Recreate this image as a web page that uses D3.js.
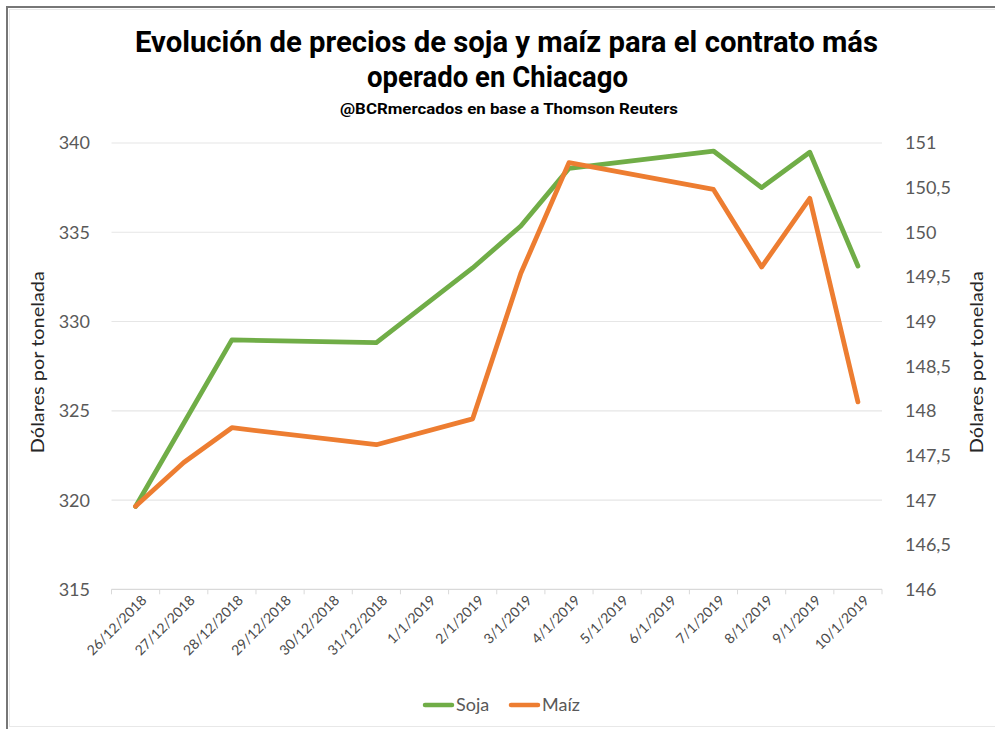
<!DOCTYPE html>
<html>
<head>
<meta charset="utf-8">
<script src="https://cdn.jsdelivr.net/npm/d3@7"></script>
<style>
  html, body { margin: 0; padding: 0; background: #fff; }
  svg { display: block; }
</style>
</head>
<body>
<svg id="chart" width="995" height="729"></svg>
<script>
// ---- Data ----
const categories = ["26/12/2018","27/12/2018","28/12/2018","29/12/2018","30/12/2018","31/12/2018",
  "1/1/2019","2/1/2019","3/1/2019","4/1/2019","5/1/2019","6/1/2019","7/1/2019","8/1/2019","9/1/2019","10/1/2019"];
const sojaDates  = ["26/12/2018","27/12/2018","28/12/2018","31/12/2018","2/1/2019","3/1/2019","4/1/2019","7/1/2019","8/1/2019","9/1/2019","10/1/2019"];
const sojaValues = [319.64, 324.3, 328.97, 328.82, 333.0, 335.35, 338.58, 339.55, 337.5, 339.48, 333.11];
const maizDates  = ["26/12/2018","27/12/2018","28/12/2018","31/12/2018","2/1/2019","3/1/2019","4/1/2019","7/1/2019","8/1/2019","9/1/2019","10/1/2019"];
const maizValues = [146.93, 147.42, 147.81, 147.62, 147.91, 149.54, 150.78, 150.48, 149.61, 150.38, 148.10];
const leftTicks  = [315, 320, 325, 330, 335, 340];
const rightTicks = [146, 146.5, 147, 147.5, 148, 148.5, 149, 149.5, 150, 150.5, 151];
const seriesNames = ["Soja", "Maíz"];
const seriesColors = ["#70AD47", "#ED7D31"];

(function () {
// ---- Layout ----
const svg = d3.select("#chart");
const pL = 111.5, pR = 882, pT = 143, pB = 589.3;
const font = "Lato, 'Open Sans', sans-serif";
const textCol = "#595959";

// frame
svg.append("rect").attr("x", 7).attr("y", 7).attr("width", 1000).attr("height", 740)
  .attr("fill", "none").attr("stroke", "#777").attr("stroke-width", 2);
svg.append("rect").attr("x", 9.5).attr("y", 9.5).attr("width", 1000).attr("height", 717)
  .attr("fill", "none").attr("stroke", "#e8e8e8").attr("stroke-width", 1);

const x = d3.scaleBand().domain(categories).range([pL, pR]).padding(0);
const yL = d3.scaleLinear().domain([315, 340]).range([pB, pT]);
const yR = d3.scaleLinear().domain([146, 151]).range([pB, pT]);
const cx = d => x(d) + x.bandwidth() / 2;

// gridlines
svg.append("g").selectAll("line").data(leftTicks).join("line")
  .attr("x1", pL).attr("x2", pR)
  .attr("y1", d => yL(d)).attr("y2", d => yL(d))
  .attr("stroke", d => d === 315 ? "#d9d9d9" : "#e6e6e6").attr("stroke-width", 1.2);

// x tick marks (category boundaries)
const bounds = categories.map(c => x(c)).concat([pR]);
svg.append("g").selectAll("line").data(bounds).join("line")
  .attr("x1", d => d).attr("x2", d => d)
  .attr("y1", pB).attr("y2", pB + 5)
  .attr("stroke", "#d9d9d9").attr("stroke-width", 1);

// left axis labels
svg.append("g").selectAll("text").data(leftTicks).join("text")
  .attr("x", 90).attr("y", d => yL(d)).attr("dy", "0.36em")
  .attr("text-anchor", "end")
  .attr("font-family", font).attr("font-size", 18).attr("fill", textCol)
  .text(d => d);

// right axis labels
const commaFmt = d => String(d).replace(".", ",");
svg.append("g").selectAll("text").data(rightTicks).join("text")
  .attr("x", 905).attr("y", d => yR(d)).attr("dy", "0.36em")
  .attr("text-anchor", "start")
  .attr("font-family", font).attr("font-size", 18).attr("fill", textCol)
  .text(commaFmt);

// x labels
svg.append("g").selectAll("text").data(categories).join("text")
  .attr("transform", d => `translate(${cx(d) + 12},${pB + 12}) rotate(-45)`)
  .attr("text-anchor", "end")
  .attr("font-family", font).attr("font-size", 14).attr("fill", "#4a4a4a")
  .text(d => d);

// axis titles
svg.append("text")
  .attr("transform", `translate(44,${(pT + pB) / 2 - 4}) rotate(-90)`)
  .attr("text-anchor", "middle")
  .attr("font-family", font).attr("font-size", 17).attr("fill", "#262626")
  .attr("textLength", 182).attr("lengthAdjust", "spacingAndGlyphs")
  .text("Dólares por tonelada");
svg.append("text")
  .attr("transform", `translate(983,${(pT + pB) / 2 - 4}) rotate(-90)`)
  .attr("text-anchor", "middle")
  .attr("font-family", font).attr("font-size", 17).attr("fill", "#262626")
  .attr("textLength", 182).attr("lengthAdjust", "spacingAndGlyphs")
  .text("Dólares por tonelada");

// lines
const sojaData = sojaDates.map((d, i) => ({ d, v: sojaValues[i] }));
const maizData = maizDates.map((d, i) => ({ d, v: maizValues[i] }));
const lineL = d3.line().x(p => cx(p.d)).y(p => yL(p.v));
const lineR = d3.line().x(p => cx(p.d)).y(p => yR(p.v));
svg.append("path").datum(sojaData).attr("d", lineL)
  .attr("fill", "none").attr("stroke", seriesColors[0]).attr("stroke-width", 4.8)
  .attr("stroke-linejoin", "round").attr("stroke-linecap", "round");
svg.append("path").datum(maizData).attr("d", lineR)
  .attr("fill", "none").attr("stroke", seriesColors[1]).attr("stroke-width", 4.8)
  .attr("stroke-linejoin", "round").attr("stroke-linecap", "round");

// title
const titleFont = "Roboto, 'DejaVu Sans', sans-serif";
svg.append("text").attr("x", 135).attr("y", 52)
  .attr("font-family", titleFont).attr("font-weight", "bold").attr("font-size", 30)
  .attr("textLength", 743).attr("lengthAdjust", "spacingAndGlyphs").attr("fill", "#000")
  .text("Evolución de precios de soja y maíz para el contrato más");
svg.append("text").attr("x", 367).attr("y", 87)
  .attr("font-family", titleFont).attr("font-weight", "bold").attr("font-size", 30)
  .attr("textLength", 261).attr("lengthAdjust", "spacingAndGlyphs").attr("fill", "#000")
  .text("operado en Chiacago");
svg.append("text").attr("x", 340).attr("y", 114)
  .attr("font-family", titleFont).attr("font-weight", "bold").attr("font-size", 15)
  .attr("textLength", 338).attr("lengthAdjust", "spacingAndGlyphs").attr("fill", "#000")
  .text("@BCRmercados en base a Thomson Reuters");

// legend
const legendX = [425, 511];
const lg = svg.append("g");
seriesNames.forEach((n, i) => {
  lg.append("line").attr("x1", legendX[i]).attr("x2", legendX[i] + 27)
    .attr("y1", 705).attr("y2", 705)
    .attr("stroke", seriesColors[i]).attr("stroke-width", 4.5).attr("stroke-linecap", "round");
  lg.append("text").attr("x", legendX[i] + 31).attr("y", 705).attr("dy", "0.36em")
    .attr("font-family", font).attr("font-size", 18).attr("fill", textCol)
    .text(n);
});
})();
</script>
</body>
</html>
